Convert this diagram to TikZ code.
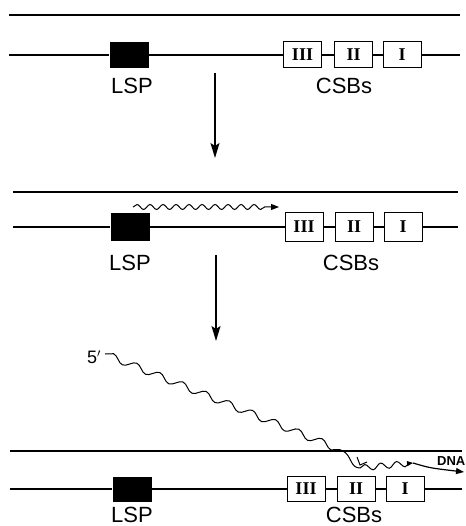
\documentclass[tikz,border=0pt]{standalone}
\usepackage{fontspec}
\newfontfamily\sansfont{Liberation Sans}
\newfontfamily\numfont{Liberation Serif}
\usetikzlibrary{decorations.pathmorphing,arrows.meta}

\tikzset{
  strand/.style={line width=1.4pt},
  lsp/.style={fill=black, minimum width=39pt, minimum height=26pt, inner sep=0pt},
  csb/.style={draw, line width=1pt, fill=white, minimum width=38pt, minimum height=26pt,
              inner sep=0pt, font=\numfont\bfseries\fontsize{18}{18}\selectfont},
  lbl/.style={font=\sansfont\fontsize{22}{22}\selectfont, inner sep=0pt},
  stage/.style={line width=1.4pt, -{Stealth[length=15pt,width=9pt,inset=3pt]}},
  rnashort/.style={line width=1pt, decorate,
                   decoration={snake, amplitude=2.5pt, segment length=13pt, post length=12pt}},
  rnalong/.style={line width=1pt, decorate,
                  decoration={snake, amplitude=3.5pt, segment length=25pt}},
  rnatail/.style={line width=1pt, decorate,
                  decoration={snake, amplitude=3pt, segment length=16pt, post length=3pt}},
}

\begin{document}
\begin{tikzpicture}[x=1pt, y=-1pt]
  \useasboundingbox (0,0) rectangle (465,526);
  \clip (0,0) rectangle (465,526);

  % ---------- stage 1: promoter and conserved sequence blocks ----------
  \coordinate (t1l) at (9,15);  \coordinate (t1r) at (460,15);
  \draw[strand] (t1l) -- (t1r);
  \node[lsp] (lsp1) at (129,55) {};
  \node[csb] (c31) at (302.5,55) {III};
  \node[csb] (c21) at (353.5,55) {II};
  \node[csb] (c11) at (402,55) {I};
  \coordinate (b1l) at (9,55);  \coordinate (b1r) at (460,55);
  \draw[strand] (b1l) -- (lsp1) -- (c31) -- (c21) -- (c11) -- (b1r);
  \node[lbl] (lspl1) at (132,85.5) {LSP};
  \node[lbl] (csbl1) at (344,85.5) {CSBs};

  \coordinate (a1s) at (215,73);  \coordinate (a1e) at (215,158);
  \draw[stage] (a1s) -- (a1e);

  % ---------- stage 2: transcription from LSP ----------
  \coordinate (t2l) at (13,192);  \coordinate (t2r) at (458,192);
  \draw[strand] (t2l) -- (t2r);
  \node[lsp, minimum height=28pt] (lsp2) at (130,227) {};
  \node[csb, minimum height=28pt] (c32) at (304,227) {III};
  \node[csb, minimum height=28pt] (c22) at (354,227) {II};
  \node[csb, minimum height=28pt] (c12) at (403,227) {I};
  \coordinate (b2l) at (13,227);  \coordinate (b2r) at (458,227);
  \draw[strand] (b2l) -- (lsp2) -- (c32) -- (c22) -- (c12) -- (b2r);
  \node[lbl] (lspl2) at (130,263) {LSP};
  \node[lbl] (csbl2) at (351,263) {CSBs};

  \coordinate (r2s) at (133,207);  \coordinate (r2e) at (279,207);
  \draw[rnashort, -{Triangle[length=8pt,width=6pt]}] (r2s) -- (r2e);

  \coordinate (a2s) at (216,255);  \coordinate (a2e) at (216,341);
  \draw[stage] (a2s) -- (a2e);

  % ---------- stage 3: RNA primer and start of DNA synthesis ----------
  \coordinate (t3l) at (10,451);  \coordinate (t3r) at (462,451);
  \draw[strand] (t3l) -- (t3r);
  \node[lsp, minimum height=25pt] (lsp3) at (132,489) {};
  \node[csb, minimum height=25pt] (c33) at (306,489) {III};
  \node[csb, minimum height=25pt] (c23) at (356,489) {II};
  \node[csb, minimum height=25pt] (c13) at (405,489) {I};
  \coordinate (b3l) at (10,489);  \coordinate (b3r) at (462,489);
  \draw[strand] (b3l) -- (lsp3) -- (c33) -- (c23) -- (c13) -- (b3r);
  \node[lbl] (lspl3) at (132,515) {LSP};
  \node[lbl] (csbl3) at (354,515) {CSBs};

  % RNA strand from its 5' end down to the priming site
  \node[font=\sansfont\fontsize{18}{18}\selectfont, inner sep=0pt] (five) at (94,357) {5$'$};
  \coordinate (r3s) at (105,354);
  \coordinate (r3c) at (343,451);
  \coordinate (r3d) at (360,468);
  \coordinate (r3j) at (413,463);
  \draw[rnalong] (r3s) -- (r3c);
  \draw[line width=1pt] (r3c) .. controls (352,456) and (350,468) .. (r3d);
  \draw[rnatail, -{Triangle[length=6pt,width=5pt]}] (r3d) -- (r3j);
  % processing mark
  \draw[line width=1pt] (357,457) -- (360,465) -- (367,462);

  % newly synthesised DNA
  \coordinate (dnae) at (464,472);
  \draw[line width=1.2pt, -{Triangle[length=8pt,width=6pt]}] (r3j) .. controls (430,468) .. (dnae);
  \node[font=\sansfont\bfseries\fontsize{13}{13}\selectfont, inner sep=0pt, anchor=west] (dna) at (437,461.5) {DNA};
\end{tikzpicture}
\end{document}
